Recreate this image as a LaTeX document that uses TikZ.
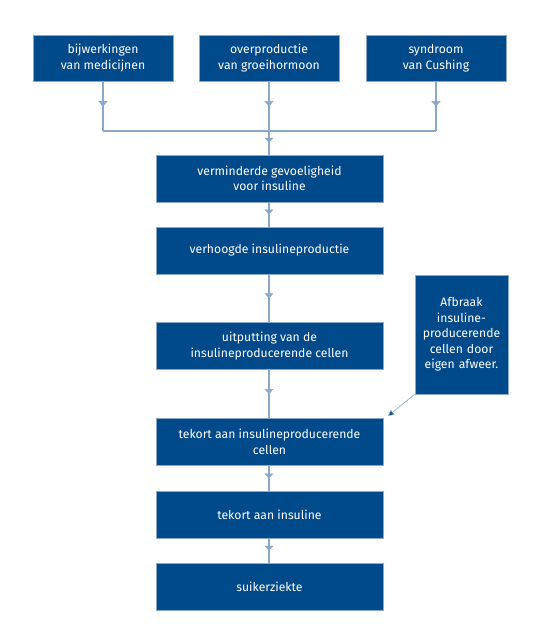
\documentclass[tikz,border=0pt]{standalone}
\usepackage{fontspec}
\setmainfont{Fira Sans}
\usetikzlibrary{arrows.meta,decorations.markings}
\definecolor{boxblue}{HTML}{004A8C}
\definecolor{lineblue}{HTML}{8AA9C9}

\begin{document}
\begin{tikzpicture}[x=1pt,y=-1pt,
every node/.style={font=\fontsize{12.2}{15.5}\selectfont,text=white,align=center},
stepbox/.style={draw=lineblue,fill=boxblue,line width=0.8pt,minimum width=227pt,minimum height=47pt,inner sep=2pt},
topbox/.style={stepbox,minimum width=140pt,minimum height=46pt},
flow/.style={draw=lineblue,line width=1.4pt,postaction={decorate},
  decoration={markings,mark=at position 0.5 with {\arrow[fill=boxblue,draw=lineblue,line width=0.5pt]{Triangle[width=9pt,length=5pt]}}}}
]
\useasboundingbox (0,0) rectangle (540,641);

  %top row
  \node[topbox] (Medicine) at (103,58) {bijwerkingen\\van medicijnen};
  \node[topbox] (Growth) at (269,58) {overproductie\\van groeihormoon};
  \node[topbox] (Cushing) at (436,58) {syndroom\\van Cushing};
  \coordinate (Join) at (269,131);

  %main column
  \node[stepbox] (Sensitivity) at (269.5,178.5) {verminderde gevoeligheid\\voor insuline};
  \node[stepbox] (Production) at (269.5,250.5) {verhoogde insulineproductie};
  \node[stepbox] (Exhaustion) at (269.5,346) {uitputting van de\\insulineproducerende cellen};
  \node[stepbox] (CellShortage) at (269.5,442) {tekort aan insulineproducerende\\cellen};
  \node[stepbox] (InsulinShortage) at (269.5,515) {tekort aan insuline};
  \node[stepbox] (Diabetes) at (269.5,586.5) {suikerziekte};

  %side note
  \node[stepbox,minimum width=93pt,minimum height=119pt,text width=88pt] (Immune) at (461.5,334.5)
    {Afbraak\\insuline-\\producerende\\cellen door\\eigen afweer.};
  \coordinate (ImmuneTip) at (388,416);

  \draw[flow] (Medicine.south) -- (Medicine.south |- Join);
  \draw[flow] (Growth.south) -- (Join);
  \draw[flow] (Cushing.south) -- (Cushing.south |- Join);
  \draw[draw=lineblue,line width=1.4pt] (Medicine.south |- Join) -- (Cushing.south |- Join);
  \draw[flow] (Join) -- (Join |- Sensitivity.north);
  \draw[flow] (Sensitivity.south -| Join) -- (Join |- Production.north);
  \draw[flow] (Production.south -| Join) -- (Join |- Exhaustion.north);
  \draw[flow] (Exhaustion.south -| Join) -- (Join |- CellShortage.north);
  \draw[flow] (CellShortage.south -| Join) -- (Join |- InsulinShortage.north);
  \draw[flow] (InsulinShortage.south -| Join) -- (Join |- Diabetes.north);
  \draw[draw=lineblue,line width=0.6pt,-{Triangle[width=6pt,length=6pt,fill=boxblue]}] (Immune.south west) -- (ImmuneTip);
\end{tikzpicture}
\end{document}
